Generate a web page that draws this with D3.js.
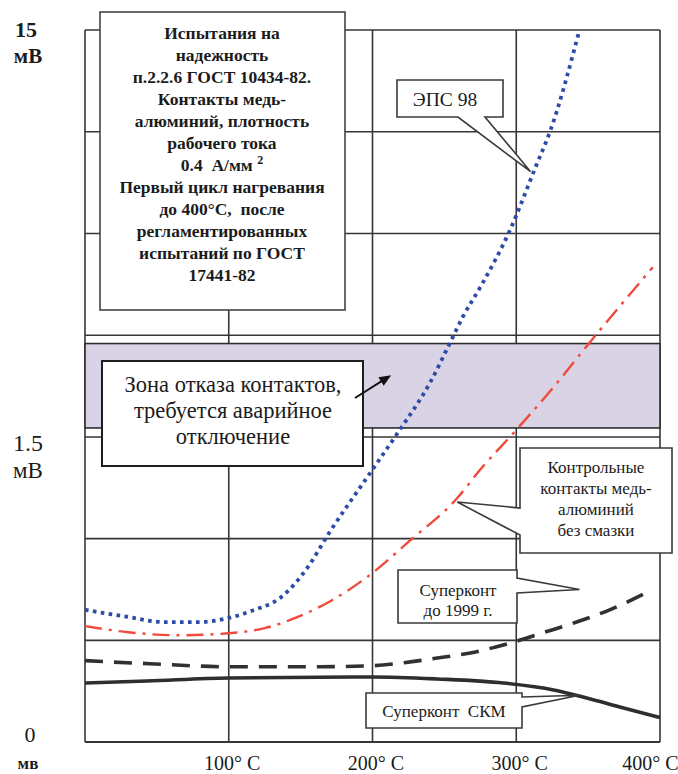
<!DOCTYPE html>
<html>
<head>
<meta charset="utf-8">
<script src="https://cdn.jsdelivr.net/npm/d3@7"></script>
<style>
  body { margin: 0; background: #fff; }
  svg { display: block; }
  text { font-family: "Liberation Serif", "Times New Roman", serif; fill: #1b1b1b; white-space: pre; }
</style>
</head>
<body>
<svg id="chart"></svg>
<script>
// temperature ticks (°C) and horizontal grid levels (mV, scale is split at 1.5 mV)
const tempTicks = [100, 200, 300, 400];
const gridLevels = [0, 0.5, 1, 1.5, 4.875, 8.25, 11.625, 15];
const failBand = [1.8, 4.6];

// [temperature °C, voltage drop mV]
const eps98 = [[0, 0.65], [30, 0.615], [55, 0.59], [80, 0.59], [100, 0.61], [118, 0.65], [136, 0.71],
  [154, 0.85], [170, 1.03], [200, 1.34], [218, 1.67], [240, 3.3], [255, 4.73], [263, 5.5],
  [275, 6.47], [296, 8.4], [313, 10.4], [324, 11.7], [344, 15]];
const controlCuAl = [[0, 0.57], [30, 0.54], [65, 0.525], [100, 0.535], [125, 0.56], [148, 0.615],
  [170, 0.69], [196, 0.81], [226, 0.99], [259, 1.2], [275, 1.34], [298, 1.63], [325, 3.1],
  [351, 4.63], [395, 7.13]];
const superkont1999 = [[0, 0.4], [45, 0.385], [100, 0.37], [160, 0.37], [200, 0.375], [222, 0.39],
  [245, 0.413], [268, 0.438], [296, 0.487], [318, 0.536], [342, 0.59], [365, 0.65], [395, 0.75]];
const superkontSKM = [[0, 0.29], [43, 0.3], [100, 0.315], [200, 0.32], [245, 0.31], [291, 0.29],
  [326, 0.256], [349, 0.216], [372, 0.172], [400, 0.12]];

const infoLines = ["Испытания на", "надежность", "п.2.2.6 ГОСТ 10434-82.", "Контакты медь-",
  "алюминий, плотность", "рабочего тока", "0.4  А/мм ^2", "Первый цикл нагревания",
  "до 400\u00B0С,  после", "регламентированных", "испытаний по ГОСТ", "17441-82"];
const bandLines = ["Зона отказа контактов,", "требуется аварийное", "отключение"];

const width = 678, height = 774;
const svg = d3.select("#chart").attr("width", width).attr("height", height);

const x = d3.scaleLinear().domain([0, 400]).range([85, 660]);
const y = d3.scaleLinear().domain([0, 1.5, 15]).range([742, 437, 30]);

const gridColor = "#363636";

// grid
const grid = svg.append("g");
grid.selectAll(".h").data(gridLevels).enter().append("line")
  .attr("x1", x(0)).attr("x2", x(400))
  .attr("y1", d => y(d)).attr("y2", d => y(d))
  .style("stroke", gridColor).style("stroke-width", d => d === 0 ? 2.2 : 1.6);
grid.selectAll(".v").data([0].concat(tempTicks)).enter().append("line")
  .attr("x1", d => x(d)).attr("x2", d => x(d))
  .attr("y1", y(15)).attr("y2", y(0))
  .style("stroke", gridColor).style("stroke-width", 1.6);

// failure zone band
svg.append("rect")
  .attr("x", x(0)).attr("width", x(400) - x(0))
  .attr("y", y(failBand[1])).attr("height", y(failBand[0]) - y(failBand[1]))
  .style("fill", "#d9d3e5").style("stroke", "#2e2e2e").style("stroke-width", 1.6);

// curves
const line = d3.line().x(d => x(d[0])).y(d => y(d[1])).curve(d3.curveMonotoneX);

svg.append("path").datum(superkontSKM).attr("d", line)
  .style("fill", "none").style("stroke", "#2c2f2c").style("stroke-width", 3.6);
svg.append("path").datum(superkont1999).attr("d", line)
  .style("fill", "none").style("stroke", "#2f322f").style("stroke-width", 3.6)
  .style("stroke-dasharray", "18 11");
svg.append("path").datum(controlCuAl).attr("d", line)
  .style("fill", "none").style("stroke", "#f04a3c").style("stroke-width", 2.4)
  .style("stroke-dasharray", "17 7 3 7");
svg.append("path").datum(eps98).attr("d", line)
  .style("fill", "none").style("stroke", "#2c4ca6").style("stroke-width", 3.8)
  .style("stroke-dasharray", "3.6 4.4");

// info box
svg.append("rect").attr("x", 100).attr("y", 12).attr("width", 245).attr("height", 298)
  .style("fill", "#fff").style("stroke", "#444").style("stroke-width", 1.6);
const info = svg.append("text").attr("text-anchor", "middle")
  .style("font-size", "17.5px").style("font-weight", "bold");
infoLines.forEach((s, i) => {
  const parts = s.split("^");
  info.append("tspan").attr("x", 222).attr("y", 39 + i * 22).text(parts[0]);
  if (parts[1]) {
    info.append("tspan").attr("dy", -7).style("font-size", "12px").text(parts[1]);
  }
});

// failure zone label
svg.append("rect").attr("x", 102).attr("y", 361).attr("width", 261).attr("height", 105)
  .style("fill", "#fff").style("stroke", "#1e1e1e").style("stroke-width", 2);
svg.append("text").attr("text-anchor", "middle").style("font-size", "22.5px")
  .selectAll("tspan").data(bandLines).enter().append("tspan")
  .attr("x", 233).attr("y", (d, i) => 392 + i * 26).text(d => d);
// arrow into the band
const ax0 = 355, ay0 = 398, ax1 = x(213), ay1 = y(3.55);
const ang = Math.atan2(ay1 - ay0, ax1 - ax0);
svg.append("line").attr("x1", ax0).attr("y1", ay0)
  .attr("x2", ax1 - 8 * Math.cos(ang)).attr("y2", ay1 - 8 * Math.sin(ang))
  .style("stroke", "#111").style("stroke-width", 2);
svg.append("path")
  .attr("d", d3.line()([
    [ax1, ay1],
    [ax1 - 12 * Math.cos(ang) + 5 * Math.sin(ang), ay1 - 12 * Math.sin(ang) - 5 * Math.cos(ang)],
    [ax1 - 12 * Math.cos(ang) - 5 * Math.sin(ang), ay1 - 12 * Math.sin(ang) + 5 * Math.cos(ang)]
  ]) + "Z")
  .style("fill", "#111");

// callouts: box [x0,y0,x1,y1], side where the pointer leaves, base range along that side, tip in data units
function callout(box, side, base, tip, lines, size, cx, y0, dy) {
  const [bx0, by0, bx1, by1] = box;
  const tx = x(tip[0]), ty = y(tip[1]);
  let pts;
  if (side === "bottom") {
    pts = [[bx0, by0], [bx1, by0], [bx1, by1], [base[1], by1], [tx, ty], [base[0], by1], [bx0, by1]];
  } else if (side === "left") {
    pts = [[bx0, by0], [bx1, by0], [bx1, by1], [bx0, by1], [bx0, base[1]], [tx, ty], [bx0, base[0]]];
  } else {
    pts = [[bx0, by0], [bx1, by0], [bx1, base[0]], [tx, ty], [bx1, base[1]], [bx1, by1], [bx0, by1]];
  }
  svg.append("path").attr("d", d3.line()(pts) + "Z")
    .style("fill", "#fff").style("stroke", "#3a3a3a").style("stroke-width", 1.6);
  svg.append("text").attr("text-anchor", "middle").style("font-size", size + "px")
    .selectAll("tspan").data(lines).enter().append("tspan")
    .attr("x", cx).attr("y", (d, i) => y0 + i * dy).text(d => d);
}

callout([397, 80, 503, 117], "bottom", [458, 485], [310, 10.3], ["ЭПС 98"], 19.5, 445, 106, 0);
callout([520, 448, 672, 553], "left", [508, 535], [259, 1.18],
  ["Контрольные", "контакты медь-", "алюминий", "без смазки"], 17, 596, 473, 21);
callout([398, 570, 517, 623], "right", [578, 593], [344, 0.75],
  ["Суперконт", "до 1999 г."], 17, 458, 596, 20);
callout([366, 693, 522, 728], "right", [697, 707], [344, 0.23],
  ["Суперконт  СКМ"], 17, 444, 717, 0);

// y labels
const yl = svg.append("g").attr("text-anchor", "middle");
yl.append("text").attr("x", 26).attr("y", y(15) + 7).style("font-size", "22px").style("font-weight", "bold").text("15");
yl.append("text").attr("x", 28).attr("y", y(15) + 33).style("font-size", "21px").style("font-weight", "bold").text("мВ");
yl.append("text").attr("x", 28).attr("y", y(1.5) + 14).style("font-size", "24px").text("1.5");
yl.append("text").attr("x", 28).attr("y", y(1.5) + 41).style("font-size", "23px").text("мВ");
yl.append("text").attr("x", 30).attr("y", y(0)).style("font-size", "22px").text("0");
yl.append("text").attr("x", 28).attr("y", y(0) + 27).style("font-size", "17px").style("font-weight", "bold").text("мв");

// x labels
const xAxis = svg.append("g").attr("transform", "translate(0," + (y(0) + 11) + ")")
  .call(d3.axisBottom(x).tickValues(tempTicks).tickSize(0).tickFormat(d => d + "\u00B0 C"));
xAxis.select(".domain").remove();
xAxis.selectAll("text")
  .style("font-family", '"Liberation Serif", "Times New Roman", serif')
  .style("font-size", "20px").style("fill", "#1b1b1b")
  .attr("dx", d => d === 400 ? -10 : 3);
</script>
</body>
</html>
